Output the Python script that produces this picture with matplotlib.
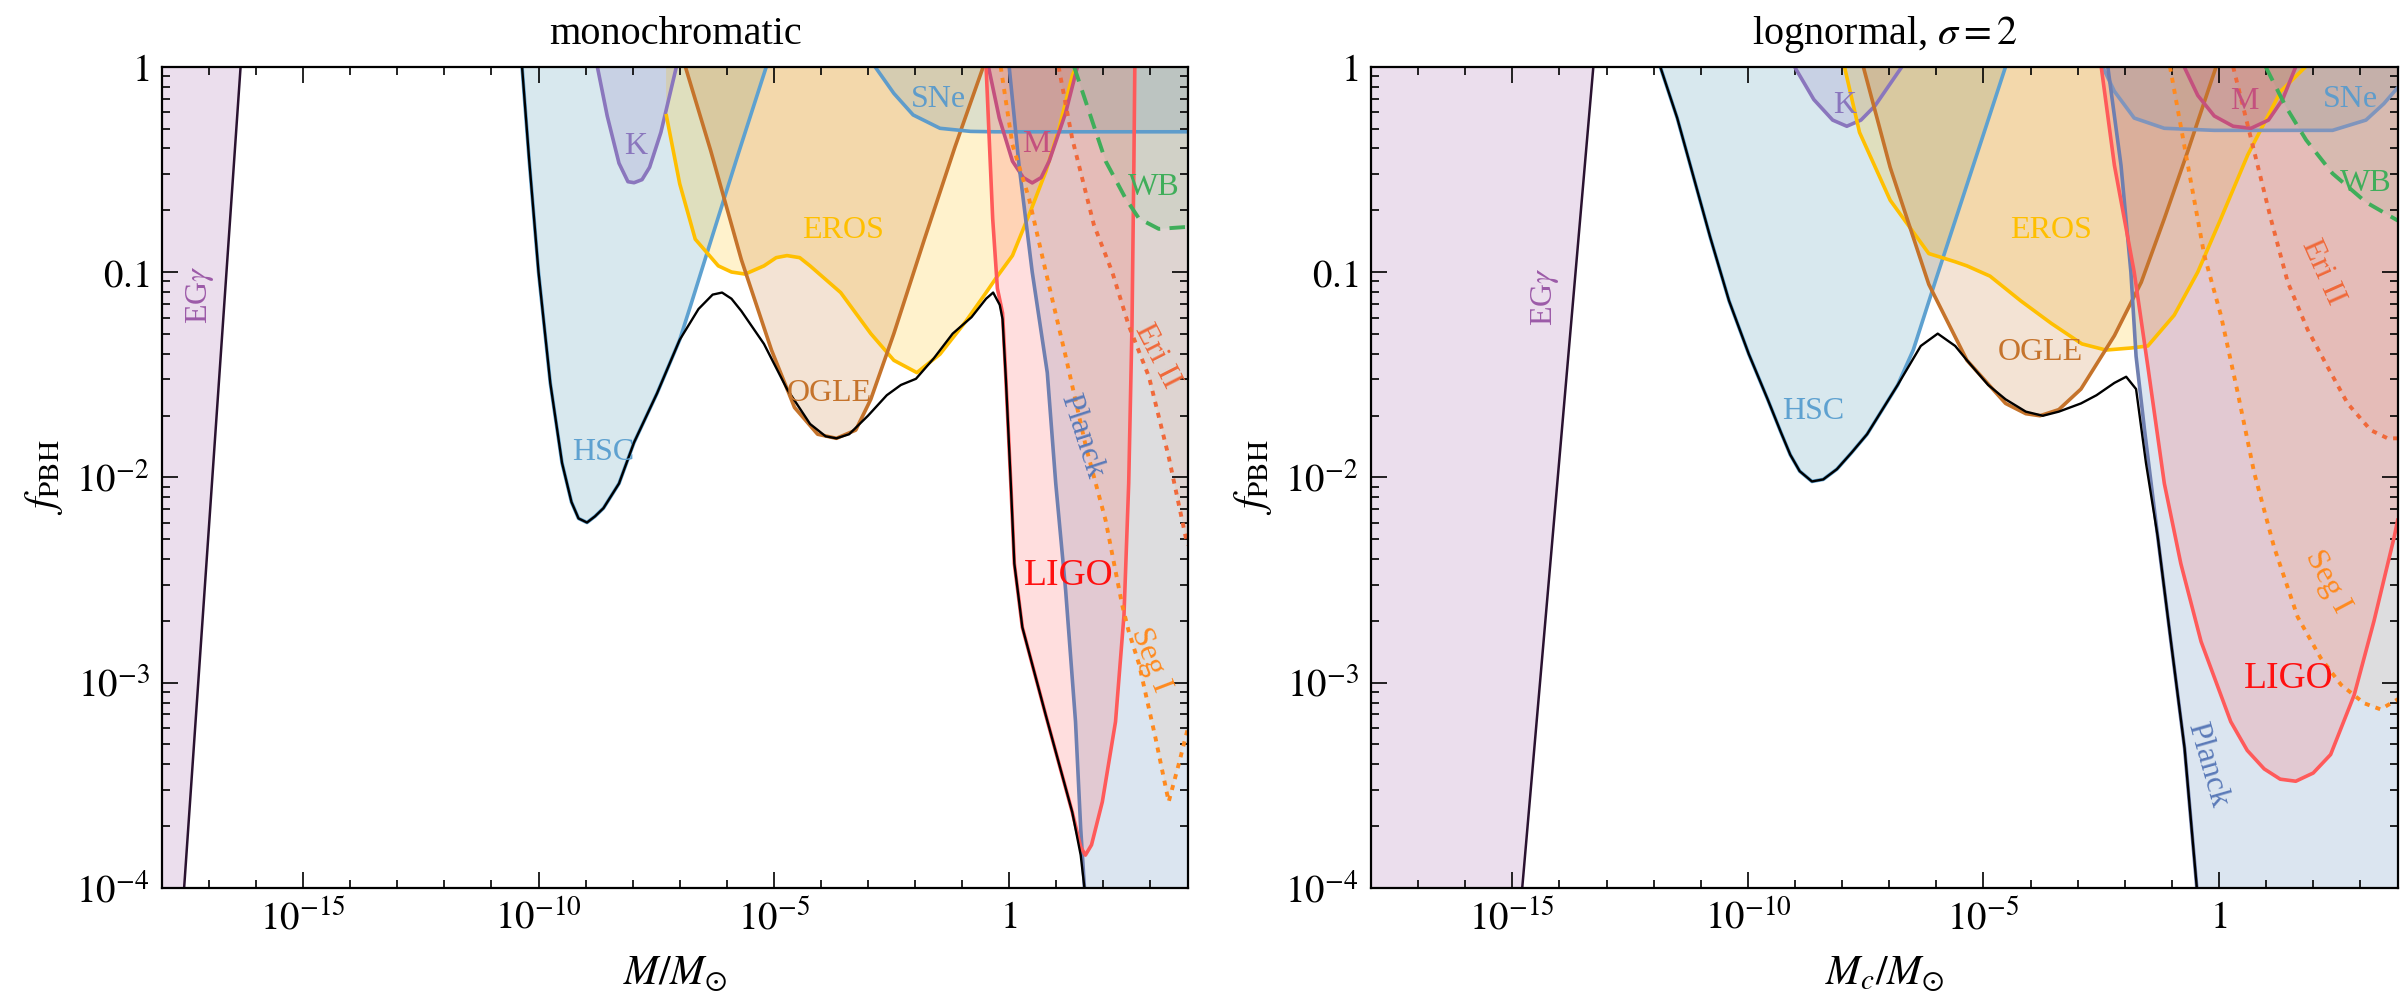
import numpy as np
import matplotlib
matplotlib.use("Agg")
import matplotlib.pyplot as plt
from matplotlib.ticker import FixedLocator, NullFormatter

plt.rcParams["font.family"] = ["Liberation Serif", "DejaVu Serif"]
plt.rcParams["mathtext.fontset"] = "stix"

# ---------------------------------------------------------------------------
# Constraint curves, stored as (log10 M, log10 f_PBH) pairs.
# ---------------------------------------------------------------------------

# monochromatic mass function
egg_mono_logm = [-18.0, -17.53, -16.33]
egg_mono_logf = [-4.0, -4.0, 0.0]

hsc_mono_logm = [-10.35, -10.2, -10.0, -9.75, -9.5, -9.3, -9.15, -8.97, -8.8, -8.62,
                 -8.29, -7.97, -7.48, -7.0, -6.75, -6.3, -5.75, -5.16]
hsc_mono_logf = [0.0, -0.45, -1.0, -1.54, -1.93, -2.12, -2.2, -2.22, -2.19, -2.15,
                 -2.03, -1.83, -1.59, -1.33, -1.15, -0.82, -0.42, 0.0]

k_mono_logm = [-8.75, -8.54, -8.29, -8.1, -7.97, -7.8, -7.64, -7.40, -7.07]
k_mono_logf = [0.0, -0.24, -0.47, -0.56, -0.565, -0.55, -0.49, -0.32, 0.0]

eros_mono_logm = [-7.29, -7.0, -6.67, -6.18, -5.9, -5.61, -5.21, -4.95, -4.72, -4.45,
                  -4.23, -3.58, -2.94, -2.45, -1.96, -1.47, -0.92, -0.49, -0.28, 0.07,
                  0.46, 0.78, 1.06, 1.34, 1.42]
eros_mono_logf = [-0.23, -0.57, -0.84, -0.97, -1.0, -1.01, -0.97, -0.93, -0.92, -0.93,
                  -0.97, -1.10, -1.30, -1.43, -1.49, -1.40, -1.24, -1.10, -1.03, -0.92,
                  -0.70, -0.51, -0.30, -0.045, 0.0]

ogle_mono_logm = [-6.88, -6.34, -5.69, -5.05, -4.56, -4.07, -3.67, -3.26, -2.94, -2.45,
                  -1.80, -1.15, -0.55]
ogle_mono_logf = [0.0, -0.41, -0.94, -1.38, -1.66, -1.79, -1.81, -1.77, -1.62, -1.30,
                  -0.84, -0.39, 0.0]

sne_mono_logm = [-2.85, -2.45, -2.04, -1.47, -0.82, -0.3, 3.8]
sne_mono_logf = [0.0, -0.13, -0.235, -0.30, -0.315, -0.317, -0.317]

m_mono_logm = [-0.44, -0.21, 0.07, 0.3, 0.49, 0.68, 0.85, 1.20, 1.45]
m_mono_logf = [0.0, -0.25, -0.46, -0.54, -0.566, -0.54, -0.46, -0.225, 0.0]

wb_mono_logm = [1.38, 1.7, 2.05, 2.47, 2.76, 3.18, 3.8]
wb_mono_logf = [0.0, -0.22, -0.46, -0.64, -0.74, -0.79, -0.78]

ligo_mono_logm = [-0.49, -0.35, -0.25, -0.14, -0.07, 0.035, 0.11, 0.28, 0.78, 1.34,
                  1.52, 1.62, 1.75, 1.98, 2.26, 2.44, 2.54, 2.61, 2.65, 2.67]
ligo_mono_logf = [0.0, -0.74, -1.08, -1.2, -1.52, -2.03, -2.42, -2.73, -3.16, -3.63,
                  -3.80, -3.84, -3.79, -3.58, -3.19, -2.67, -2.03, -1.26, -0.48, 0.0]

planck_mono_logm = [0.0, 0.21, 0.49, 0.81, 0.99, 1.20, 1.41, 1.52, 1.60, 3.8]
planck_mono_logf = [0.0, -0.48, -1.0, -1.49, -2.03, -2.55, -3.19, -3.71, -4.0, -4.0]

eri_mono_logm = [1.05, 1.34, 1.8, 2.19, 2.54, 2.97, 3.39, 3.75, 3.8]
eri_mono_logf = [0.0, -0.35, -0.77, -1.0, -1.26, -1.51, -1.90, -2.29, -2.33]

seg_mono_logm = [-0.18, 0.07, 0.42, 0.78, 1.20, 1.63, 2.05, 2.40, 2.54, 2.76, 3.11,
                 3.39, 3.60, 3.8]
seg_mono_logf = [0.0, -0.38, -0.64, -1.0, -1.41, -1.85, -2.21, -2.62, -2.75, -2.91,
                 -3.27, -3.58, -3.40, -3.22]

env_mono_logm = [-10.35, -10.2, -10.0, -9.75, -9.5, -9.3, -9.15, -8.97, -8.8, -8.62,
                 -8.29, -7.97, -7.48, -7.0, -6.6, -6.3, -6.1, -5.9, -5.69, -5.21,
                 -4.72, -4.23, -3.9, -3.67, -3.4, -3.0, -2.6, -2.3, -1.98, -1.6,
                 -1.2, -0.8, -0.49, -0.34, -0.2, -0.14, -0.07, 0.035, 0.11, 0.28,
                 0.78, 1.34, 1.52, 1.60]
env_mono_logf = [0.0, -0.45, -1.0, -1.54, -1.93, -2.12, -2.2, -2.22, -2.19, -2.15,
                 -2.03, -1.83, -1.59, -1.33, -1.18, -1.11, -1.10, -1.13, -1.19, -1.35,
                 -1.57, -1.74, -1.80, -1.81, -1.79, -1.70, -1.60, -1.55, -1.52, -1.42,
                 -1.30, -1.22, -1.13, -1.10, -1.16, -1.23, -1.52, -2.03, -2.42, -2.73,
                 -3.16, -3.63, -3.84, -4.0]

# lognormal mass function, sigma = 2
egg_logn_logm = [-18.0, -14.79, -13.28]
egg_logn_logf = [-4.0, -4.0, 0.0]

hsc_logn_logm = [-11.86, -11.5, -11.21, -10.8, -10.4, -9.98, -9.58, -9.3, -9.1, -8.9,
                 -8.64, -8.4, -8.11, -7.8, -7.47, -6.82, -6.49, -6.0, -5.5, -5.0, -4.53]
hsc_logn_logf = [0.0, -0.25, -0.49, -0.83, -1.14, -1.4, -1.62, -1.78, -1.89, -1.97,
                 -2.02, -2.01, -1.96, -1.88, -1.79, -1.55, -1.38, -1.03, -0.68, -0.33, 0.0]

k_logn_logm = [-9.01, -8.6, -8.2, -7.9, -7.6, -7.30, -6.73]
k_logn_logf = [0.0, -0.16, -0.26, -0.29, -0.26, -0.19, 0.0]

eros_logn_logm = [-7.95, -7.63, -6.98, -6.16, -5.6, -5.35, -4.86, -4.21, -3.56, -2.91,
                  -2.4, -1.87, -1.51, -0.95, -0.45, 0.04, 0.61, 1.31, 1.84]
eros_logn_logf = [0.0, -0.32, -0.65, -0.91, -0.95, -0.97, -1.02, -1.14, -1.25, -1.35,
                  -1.38, -1.37, -1.36, -1.21, -1.0, -0.74, -0.43, -0.12, 0.0]

ogle_logn_logm = [-7.55, -6.98, -6.16, -5.35, -4.53, -4.1, -3.8, -3.4, -2.93, -2.22,
                  -1.65, -1.16, -0.66, -0.06]
ogle_logn_logf = [0.0, -0.49, -1.06, -1.43, -1.64, -1.69, -1.70, -1.67, -1.57, -1.31,
                  -1.05, -0.74, -0.41, 0.0]

sne_logn_logm = [-2.47, -2.22, -1.80, -1.16, -0.1, 1.31, 2.41, 3.12, 3.5, 3.8]
sne_logn_logf = [0.0, -0.12, -0.25, -0.30, -0.31, -0.31, -0.31, -0.26, -0.18, -0.10]

m_logn_logm = [-0.74, -0.45, -0.1, 0.3, 0.68, 1.05, 1.35, 1.63]
m_logn_logf = [0.0, -0.14, -0.24, -0.29, -0.30, -0.26, -0.16, 0.0]

wb_logn_logm = [0.99, 1.42, 1.85, 2.41, 3.12, 3.8]
wb_logn_logf = [0.0, -0.195, -0.357, -0.52, -0.66, -0.75]

ligo_logn_logm = [-2.50, -2.22, -1.80, -1.51, -1.16, -0.81, -0.38, 0.25, 0.6, 0.96,
                  1.3, 1.63, 2.0, 2.37, 2.87, 3.29, 3.72, 3.8]
ligo_logn_logf = [0.0, -0.48, -1.0, -1.46, -2.03, -2.42, -2.80, -3.19, -3.33, -3.42,
                  -3.47, -3.48, -3.44, -3.35, -3.06, -2.70, -2.29, -2.2]

planck_logn_logm = [-2.36, -2.08, -1.87, -1.76, -1.58, -1.30, -1.02, -0.73, -0.47, 3.8]
planck_logn_logf = [0.0, -0.48, -1.0, -1.41, -1.77, -2.29, -2.80, -3.32, -4.0, -4.0]

eri_logn_logm = [0.30, 0.68, 1.10, 1.46, 1.88, 2.30, 2.73, 3.22, 3.58, 3.8]
eri_logn_logf = [0.0, -0.35, -0.74, -1.05, -1.28, -1.46, -1.64, -1.77, -1.81, -1.81]

seg_logn_logm = [-1.04, -0.66, -0.31, 0.04, 0.40, 0.75, 1.17, 1.67, 2.16, 2.59, 3.08,
                 3.43, 3.8]
seg_logn_logf = [0.0, -0.48, -0.92, -1.21, -1.59, -1.98, -2.34, -2.68, -2.88, -3.01,
                 -3.10, -3.13, -3.08]

env_logn_logm = [-11.86, -11.5, -11.21, -10.8, -10.4, -9.98, -9.58, -9.3, -9.1, -8.9,
                 -8.64, -8.4, -8.11, -7.8, -7.47, -6.82, -6.33, -5.97, -5.6, -5.35,
                 -4.9, -4.53, -4.1, -3.74, -3.4, -2.93, -2.6, -2.22, -1.97, -1.76,
                 -1.55, -1.30, -1.02, -0.73, -0.47]
env_logn_logf = [0.0, -0.25, -0.49, -0.83, -1.14, -1.4, -1.62, -1.78, -1.89, -1.97,
                 -2.02, -2.01, -1.96, -1.88, -1.79, -1.55, -1.36, -1.30, -1.36, -1.43,
                 -1.55, -1.62, -1.68, -1.70, -1.68, -1.64, -1.60, -1.54, -1.51, -1.57,
                 -1.93, -2.29, -2.80, -3.32, -4.0]

# axis ranges and tick labels
log_m_range = (-18.0, 3.8)
log_f_range = (-4.0, 0.0)
x_major = [-15, -10, -5, 0]
x_major_labels = [r"$10^{-15}$", r"$10^{-10}$", r"$10^{-5}$", r"$1$"]
y_major = [-4, -3, -2, -1, 0]
y_major_labels = [r"$10^{-4}$", r"$10^{-3}$", r"$10^{-2}$", r"$0.1$", r"$1$"]

# ---------------------------------------------------------------------------
# Styles
# ---------------------------------------------------------------------------
C = {
    "egg": "#9c5aa8", "hsc": "#5ea1d0", "k": "#8a76bd", "eros": "#ffbf00",
    "ogle": "#c5732b", "sne": "#5e9ccb", "m": "#c4507e", "wb": "#3fae5a",
    "ligo": "#ff5a5a", "planck": "#6f7fb0", "eri": "#f0693a", "seg": "#ff8a1e",
}
FILL = {"hsc": "#3c8caa", "planck": "#4b7db4"}
LW = 2.6
DOT = (0, (1.3, 1.6))
DASH = (0, (4.0, 2.4))


def region(ax, logm, logf, color, alpha=0.2, line=True, ls="-", lcolor=None,
           fcolor=None, lslice=slice(None), lw=LW, z=2):
    m = 10.0 ** np.asarray(logm)
    f = 10.0 ** np.asarray(logf)
    xs = np.concatenate([m, [m[-1], m[0]]])
    ys = np.concatenate([f, [1.0, 1.0]])
    ax.fill(xs, ys, facecolor=fcolor or color, alpha=alpha, edgecolor="none", zorder=1)
    if line:
        ax.plot(m[lslice], f[lslice], color=lcolor or color, lw=lw, ls=ls,
                zorder=z, solid_capstyle="butt", dash_capstyle="butt",
                solid_joinstyle="round")


def label(ax, lm, lf, text, color, size=23, rot=0):
    ax.text(10.0 ** lm, 10.0 ** lf, text, color=color, fontsize=size,
            ha="center", va="center", rotation=rot, rotation_mode="anchor",
            zorder=6)


def setup(ax, title, xlabel):
    ax.set_xscale("log")
    ax.set_yscale("log")
    ax.set_xlim(10.0 ** log_m_range[0], 10.0 ** log_m_range[1])
    ax.set_ylim(10.0 ** log_f_range[0], 10.0 ** log_f_range[1])
    ax.xaxis.set_major_locator(FixedLocator([10.0 ** e for e in x_major]))
    ax.xaxis.set_minor_locator(FixedLocator([10.0 ** e for e in range(-18, 4)]))
    ax.set_xticklabels(x_major_labels)
    ax.yaxis.set_major_locator(FixedLocator([10.0 ** e for e in y_major]))
    ax.yaxis.set_minor_locator(FixedLocator(
        [k * 10.0 ** e for e in range(-4, 0) for k in range(2, 10)]))
    ax.set_yticklabels(y_major_labels)
    ax.xaxis.set_minor_formatter(NullFormatter())
    ax.yaxis.set_minor_formatter(NullFormatter())
    ax.tick_params(which="both", direction="in", top=True, right=True,
                   width=1.2, labelsize=28, colors="black")
    ax.tick_params(which="major", length=11.5, pad=9)
    ax.tick_params(which="minor", length=6)
    for s in ax.spines.values():
        s.set_linewidth(1.6)
        s.set_zorder(10)
    ax.set_title(title, fontsize=29, pad=16)
    ax.set_xlabel(xlabel, fontsize=30, labelpad=12)
    ax.set_ylabel(r"$f_{\rm PBH}$", fontsize=30, labelpad=8)


def panel(ax, d, env, lab, title, xlabel, sne_line=None):
    region(ax, *d["egg"], C["egg"], lcolor="#2a1230", lslice=slice(1, None), lw=1.8)
    region(ax, *d["hsc"], C["hsc"], fcolor=FILL["hsc"])
    region(ax, *d["k"], C["k"])
    region(ax, *d["eros"], C["eros"])
    region(ax, *d["ogle"], C["ogle"])
    region(ax, *d["sne"], C["sne"], lcolor=sne_line)
    region(ax, *d["m"], C["m"])
    region(ax, *d["planck"], C["planck"], fcolor=FILL["planck"], lslice=slice(0, -1))
    region(ax, *d["ligo"], C["ligo"])
    region(ax, *d["eri"], C["eri"], alpha=0.08, ls=DOT, lw=2.8, z=3)
    region(ax, *d["seg"], C["seg"], alpha=0.08, ls=DOT, lw=2.8, z=3)
    region(ax, *d["wb"], C["wb"], alpha=0.08, ls=DASH, lw=2.8, z=3)
    ax.plot(10.0 ** np.asarray(env[0]), 10.0 ** np.asarray(env[1]),
            color="black", lw=1.7, zorder=4)
    for args, kw in lab:
        label(ax, *args, **kw)
    setup(ax, title, xlabel)


fig = plt.figure(figsize=(24.03, 10.08), dpi=100)
ax1 = fig.add_axes([162 / 2403, 1 - 888 / 1008, 1026 / 2403, 821.3 / 1008])
ax2 = fig.add_axes([1371 / 2403, 1 - 888 / 1008, 1027 / 2403, 821.3 / 1008])

mono = {
    "egg": (egg_mono_logm, egg_mono_logf), "hsc": (hsc_mono_logm, hsc_mono_logf),
    "k": (k_mono_logm, k_mono_logf), "eros": (eros_mono_logm, eros_mono_logf),
    "ogle": (ogle_mono_logm, ogle_mono_logf), "sne": (sne_mono_logm, sne_mono_logf),
    "m": (m_mono_logm, m_mono_logf), "planck": (planck_mono_logm, planck_mono_logf),
    "ligo": (ligo_mono_logm, ligo_mono_logf), "eri": (eri_mono_logm, eri_mono_logf),
    "seg": (seg_mono_logm, seg_mono_logf), "wb": (wb_mono_logm, wb_mono_logf),
}
logn = {
    "egg": (egg_logn_logm, egg_logn_logf), "hsc": (hsc_logn_logm, hsc_logn_logf),
    "k": (k_logn_logm, k_logn_logf), "eros": (eros_logn_logm, eros_logn_logf),
    "ogle": (ogle_logn_logm, ogle_logn_logf), "sne": (sne_logn_logm, sne_logn_logf),
    "m": (m_logn_logm, m_logn_logf), "planck": (planck_logn_logm, planck_logn_logf),
    "ligo": (ligo_logn_logm, ligo_logn_logf), "eri": (eri_logn_logm, eri_logn_logf),
    "seg": (seg_logn_logm, seg_logn_logf), "wb": (wb_logn_logm, wb_logn_logf),
}

mono_labels = [
    ((-17.19, -1.11, r"EG$\gamma$", C["egg"]), dict(rot=90)),
    ((-8.62, -1.88, "HSC", C["hsc"]), {}),
    ((-7.94, -0.39, "K", C["k"]), {}),
    ((-3.54, -0.80, "EROS", C["eros"]), {}),
    ((-3.83, -1.59, "OGLE", C["ogle"]), {}),
    ((-1.51, -0.16, "SNe", C["sne"]), {}),
    ((0.57, -0.38, "M", C["m"]), {}),
    ((3.07, -0.59, "WB", C["wb"]), {}),
    ((1.27, -2.48, "LIGO", "#ff1010"), dict(size=27)),
    ((1.54, -1.80, "Planck", "#5a7ab8"), dict(rot=-72)),
    ((3.14, -1.41, "Eri II", C["eri"]), dict(rot=-63)),
    ((3.0, -2.89, "Seg I", C["seg"]), dict(rot=-69)),
]
logn_labels = [
    ((-14.30, -1.12, r"EG$\gamma$", C["egg"]), dict(rot=90)),
    ((-8.61, -1.68, "HSC", C["hsc"]), {}),
    ((-7.95, -0.19, "K", C["k"]), {}),
    ((-3.56, -0.80, "EROS", C["eros"]), {}),
    ((-3.80, -1.39, "OGLE", C["ogle"]), {}),
    ((2.80, -0.16, "SNe", C["sne"]), {}),
    ((0.54, -0.17, "M", C["m"]), {}),
    ((3.12, -0.57, "WB", C["wb"]), {}),
    ((1.49, -2.98, "LIGO", "#ff1010"), dict(size=27)),
    ((-0.24, -3.40, "Planck", "#5a7ab8"), dict(rot=-74)),
    ((2.20, -1.00, "Eri II", C["eri"]), dict(rot=-66)),
    ((2.30, -2.51, "Seg I", C["seg"]), dict(rot=-62)),
]

panel(ax1, mono, (env_mono_logm, env_mono_logf), mono_labels,
      "monochromatic", r"$M/M_{\odot}$")
panel(ax2, logn, (env_logn_logm, env_logn_logf), logn_labels,
      r"lognormal, $\sigma = 2$", r"$M_c/M_{\odot}$", sne_line="#7f95bd")

fig.savefig("out.png", dpi=100)
